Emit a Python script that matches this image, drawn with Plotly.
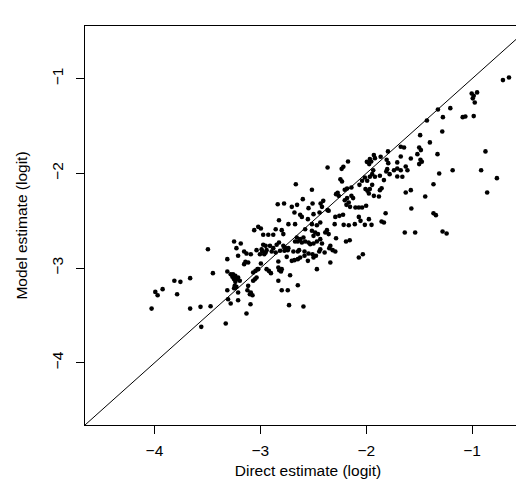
import plotly.graph_objects as go

# Direct estimate (logit) values
direct = [
    -0.652, -0.709, -1.004, -0.953, -0.985, -0.994, -0.975, -1.206, -1.323, -1.276,
    -1.427, -1.089, -1.064, -0.985, -1.282, -1.491, -1.399, -1.674, -1.643, -1.500,
    -1.484, -1.795, -1.864, -1.807, -1.674, -1.579, -1.517, -1.488, -1.475, -1.500,
    -1.707, -1.792, -1.627, -1.327, -0.874,
    -1.802, -1.811, -1.779, -1.738, -1.707, -1.674, -1.611, -1.707, -1.659, -1.871,
    -1.833, -1.311, -1.184, -0.915, -0.766, -1.365, -1.855, -1.871, -1.579, -1.627,
    -0.858, -1.443, -1.880, -1.574, -1.817, -1.365, -1.342, -1.855, -1.833, -1.636,
    -1.538, -1.279, -1.241,
    -2.172, -1.928, -1.918, -1.966, -1.953, -1.994, -1.972, -2.216, -2.232, -2.365,
    -1.934, -1.944, -1.918, -1.966, -2.013, -2.244, -2.229, -2.039, -1.991, -2.665,
    -2.064, -1.944, -2.181, -2.140, -2.203, -2.007, -1.966, -1.988, -1.975, -2.513,
    -2.285, -2.260, -2.270, -1.928, -2.140, -2.124, -2.181, -2.599, -2.406, -2.431,
    -2.836, -2.776, -2.703, -2.653, -2.545, -2.507, -2.418, -2.365, -2.203, -2.165,
    -2.187, -2.102, -2.070, -2.039, -2.001, -2.153, -2.678, -2.624, -2.608, -2.551,
    -2.498, -2.441, -2.355, -2.292, -2.254, -2.219, -2.070, -1.975, -2.824, -2.735,
    -2.672, -2.513, -2.466, -2.434, -2.298, -2.213, -2.165, -2.108, -2.013, -1.950,
    -2.054, -3.020,
    -2.995, -2.973, -2.925, -2.878, -2.855, -2.798, -2.783, -2.577, -2.513, -2.482,
    -2.456, -2.498, -2.387, -2.355, -2.371, -2.656, -2.624, -2.593, -2.646, -2.608,
    -2.577, -2.545, -2.529, -2.498, -2.466, -2.434, -2.418, -2.285, -2.191, -2.156,
    -2.339, -2.317, -2.292, -2.349, -2.973, -2.950, -2.909, -2.846, -2.824, -2.783,
    -2.878, -2.988, -2.982, -2.963, -2.950, -2.893, -2.855, -2.814, -2.773, -2.741,
    -2.688, -2.646, -2.634, -2.583, -2.545, -2.507, -2.475, -2.444, -2.393, -2.434,
    -2.751, -2.703, -2.678, -2.646, -2.624, -2.583, -2.551, -2.498, -2.339, -2.070,
    -2.032, -2.830, -2.995, -3.020, -2.941, -2.919, -2.900, -2.830, -2.821, -2.805,
    -2.798, -2.719, -2.466, -2.830, -2.646, -2.798, -2.741, -2.729, -2.593,
    -3.004, -2.941, -2.767, -2.672, -2.735,
    -3.058, -3.248, -3.185, -3.495, -3.226, -3.153, -3.131, -3.090, -3.036, -3.312,
    -3.210, -3.141, -3.115, -3.153, -3.046, -3.068, -3.448, -3.312, -3.280, -3.258,
    -3.236, -3.210, -3.248, -3.194, -3.236, -3.812, -3.755, -3.663, -3.052, -3.036,
    -3.068, -3.242, -3.248, -3.226, -3.115, -3.312, -3.210, -3.122, -3.090, -3.074,
    -3.099, -3.992, -3.970, -3.923, -3.786, -3.305, -3.280, -3.210, -3.093, -4.027,
    -3.663, -3.565, -3.470, -3.131, -3.558, -3.327, -3.264, -3.220, -3.027,
]

# Model estimate (logit) values
model = [
    -0.987, -1.015, -1.156, -1.145, -1.180, -1.208, -1.251, -1.311, -1.325, -1.406,
    -1.441, -1.406, -1.399, -1.395, -1.557, -1.596, -1.673, -1.719, -1.726, -1.726,
    -1.754, -1.768, -1.824, -1.856, -1.821, -1.842, -1.797, -1.856, -1.877, -1.902,
    -1.884, -1.892, -1.927, -1.797, -1.768,
    -1.955, -1.980, -2.008, -1.966, -1.948, -1.966, -1.966, -2.032, -2.036, -2.025,
    -2.071, -2.001, -1.966, -1.966, -2.050, -2.114, -2.156, -2.177, -2.177, -2.201,
    -2.201, -2.244, -2.244, -2.370, -2.420, -2.420, -2.441, -2.508, -2.518, -2.624,
    -2.624, -2.613, -2.634,
    -1.874, -1.807, -1.839, -1.849, -1.874, -1.878, -1.902, -1.930, -1.952, -1.938,
    -1.966, -2.008, -2.036, -2.036, -2.043, -2.061, -2.085, -2.078, -2.078, -2.114,
    -2.121, -2.121, -2.159, -2.149, -2.173, -2.166, -2.166, -2.184, -2.212, -2.173,
    -2.219, -2.237, -2.205, -2.237, -2.237, -2.261, -2.261, -2.272, -2.290, -2.318,
    -2.325, -2.318, -2.353, -2.332, -2.367, -2.318, -2.353, -2.388, -2.283, -2.307,
    -2.332, -2.360, -2.360, -2.360, -2.342, -2.353, -2.413, -2.437, -2.459, -2.483,
    -2.430, -2.413, -2.395, -2.459, -2.448, -2.437, -2.459, -2.483, -2.494, -2.536,
    -2.536, -2.536, -2.547, -2.518, -2.536, -2.543, -2.547, -2.536, -2.543, -2.543,
    -2.501, -2.564,
    -2.582, -2.648, -2.648, -2.648, -2.589, -2.599, -2.641, -2.589, -2.606, -2.624,
    -2.641, -2.659, -2.624, -2.641, -2.599, -2.677, -2.694, -2.677, -2.719, -2.729,
    -2.719, -2.729, -2.747, -2.740, -2.719, -2.694, -2.740, -2.684, -2.719, -2.705,
    -2.765, -2.810, -2.825, -2.789, -2.754, -2.765, -2.765, -2.754, -2.729, -2.765,
    -2.789, -2.800, -2.825, -2.853, -2.835, -2.825, -2.835, -2.817, -2.817, -2.810,
    -2.825, -2.825, -2.810, -2.825, -2.846, -2.853, -2.870, -2.825, -2.835, -2.800,
    -2.881, -2.923, -2.916, -2.905, -2.888, -2.870, -2.923, -2.888, -2.941, -2.888,
    -2.853, -2.930, -2.951, -3.011, -3.011, -3.029, -3.053, -2.994, -3.022, -3.036,
    -3.011, -3.075, -3.011, -3.134, -3.180, -3.233, -3.233, -3.391, -3.405,
    -2.853, -2.810, -2.782, -2.719, -2.789,
    -2.599, -2.719, -2.740, -2.800, -2.789, -2.825, -2.846, -2.853, -2.810, -2.905,
    -2.870, -2.934, -2.941, -2.958, -3.029, -3.046, -3.053, -3.036, -3.064, -3.064,
    -3.082, -3.099, -3.117, -3.134, -3.145, -3.134, -3.145, -3.106, -3.117, -3.099,
    -3.134, -3.187, -3.212, -3.198, -3.187, -3.233, -3.258, -3.233, -3.258, -3.286,
    -3.275, -3.251, -3.286, -3.222, -3.275, -3.328, -3.374, -3.339, -3.381, -3.427,
    -3.427, -3.409, -3.402, -3.479, -3.620, -3.585, -3.092, -3.117, -3.011,
]

axis_limits = [-4.656, -0.444]
identity_line = [-5.0, 0.0]
tick_values = [-4, -3, -2, -1]

font_family = "Liberation Sans, Arial, Helvetica, sans-serif"
font_size = 15.5

fig = go.Figure()
fig.add_trace(go.Scatter(
    x=identity_line, y=identity_line, mode="lines",
    line=dict(color="black", width=1), hoverinfo="skip", showlegend=False,
))
fig.add_trace(go.Scatter(
    x=direct, y=model, mode="markers",
    marker=dict(color="black", size=4.6, line=dict(width=0)),
    showlegend=False,
))

axis_common = dict(
    showgrid=False, zeroline=False, showline=True, linecolor="black", linewidth=1,
    mirror=True, ticks="outside", ticklen=8, tickwidth=1, tickcolor="black",
    tickvals=tick_values, range=axis_limits,
    tickfont=dict(family=font_family, size=font_size, color="black"),
)

fig.update_layout(
    width=524, height=481,
    margin=dict(l=77, r=1, t=18, b=64, autoexpand=False),
    paper_bgcolor="white", plot_bgcolor="white",
    font=dict(family=font_family, size=font_size, color="black"),
    xaxis=dict(title=dict(text="Direct estimate (logit)", standoff=7,
               font=dict(family=font_family, size=font_size, color="black")),
               ticklabelstandoff=3, **axis_common),
    yaxis=dict(tickangle=-90, ticklabelstandoff=7,
               title=dict(text="Model estimate (logit)", standoff=17,
                          font=dict(family=font_family, size=font_size, color="black")),
               **axis_common),
)

fig.write_html("out.html")
